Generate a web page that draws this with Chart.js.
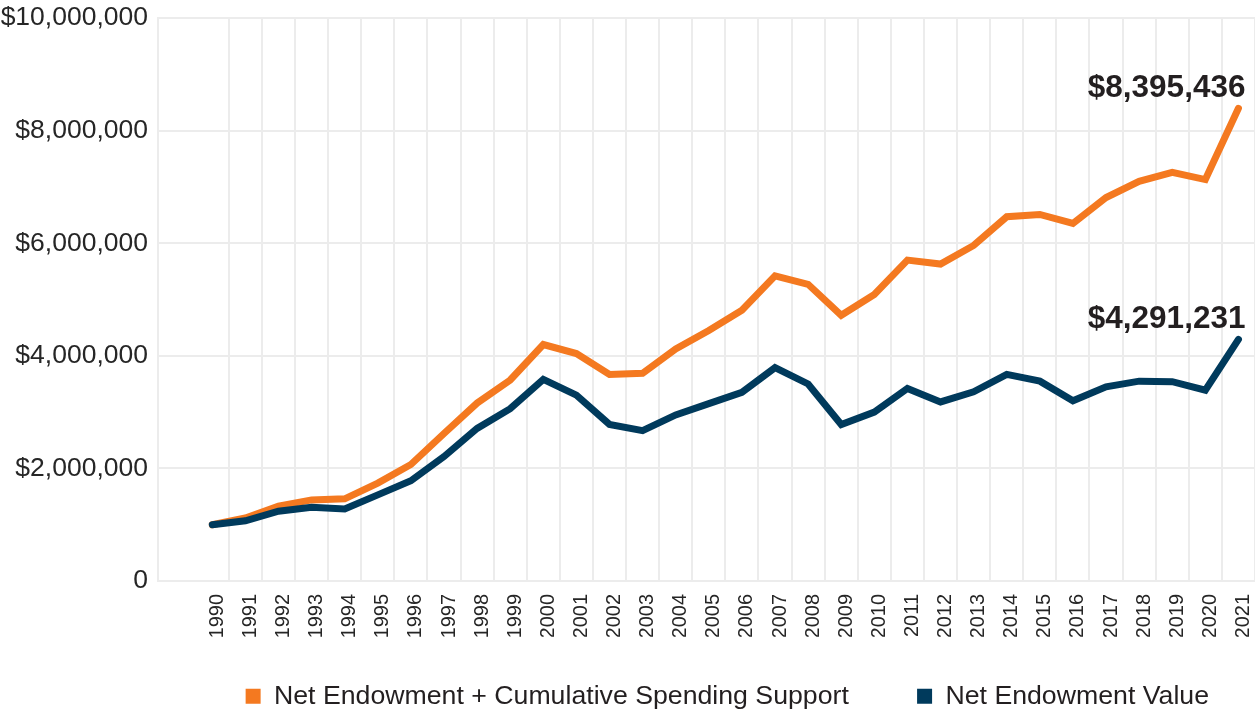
<!DOCTYPE html>
<html lang="en">

<head>
    <meta charset="UTF-8">
    <title>Net Endowment Growth</title>
    <script src="https://cdn.jsdelivr.net/npm/chart.js@4.4.1/dist/chart.umd.min.js"></script>
    <style>
        body { margin: 0; background: #fff; }
    </style>
</head>

<body>
    <canvas id="myChart" width="1255" height="713"></canvas>
</body>

<script>
    // data
    const years = [1990, 1991, 1992, 1993, 1994, 1995, 1996, 1997, 1998, 1999, 2000, 2001, 2002, 2003, 2004, 2005,
        2006, 2007, 2008, 2009, 2010, 2011, 2012, 2013, 2014, 2015, 2016, 2017, 2018, 2019, 2020, 2021];

    const endowmentPlusSpending = [1000000, 1120000, 1330000, 1440000, 1460000, 1740000, 2070000, 2620000, 3160000,
        3570000, 4200000, 4040000, 3670000, 3690000, 4120000, 4450000, 4810000, 5420000, 5270000, 4720000, 5090000,
        5700000, 5630000, 5960000, 6470000, 6510000, 6350000, 6810000, 7100000, 7260000, 7130000, 8395436];

    const endowmentValue = [1000000, 1070000, 1240000, 1310000, 1280000, 1530000, 1780000, 2210000, 2710000,
        3060000, 3580000, 3300000, 2780000, 2670000, 2950000, 3150000, 3350000, 3790000, 3500000, 2780000, 3000000,
        3420000, 3180000, 3360000, 3670000, 3550000, 3200000, 3450000, 3550000, 3540000, 3390000, 4291231];

    const seriesNames = ["Net Endowment + Cumulative Spending Support", "Net Endowment Value"];
    const seriesColors = ["#f47920", "#003a5c"];
    const yTicks = [0, 2000000, 4000000, 6000000, 8000000, 10000000];

    const gridColor = "#ececec";
    const textColor = "#262626";

    Chart.defaults.font.family = "'Liberation Sans', Arial, sans-serif";
    Chart.defaults.color = textColor;

    function money(v) {
        return v === 0 ? "0" : "$" + v.toLocaleString("en-US");
    }

    // writes the final value above the last point of each line
    const endLabels = {
        id: "endLabels",
        afterDatasetsDraw(chart) {
            const ctx = chart.ctx;
            ctx.save();
            ctx.font = "bold 31.5px 'Liberation Sans', Arial, sans-serif";
            ctx.fillStyle = "#231f20";
            ctx.textAlign = "right";
            ctx.textBaseline = "alphabetic";
            chart.data.datasets.forEach((ds, i) => {
                const pts = chart.getDatasetMeta(i).data;
                const last = pts[pts.length - 1];
                const value = ds.data[ds.data.length - 1].y;
                ctx.fillText(money(value), last.x + 7, last.y - 11);
            });
            ctx.restore();
        }
    };

    const ctx = document.getElementById("myChart").getContext("2d");
    const myChart = new Chart(ctx, {
        type: "line",
        data: {
            datasets: [{
                label: seriesNames[0],
                data: years.map((y, i) => ({ x: y, y: endowmentPlusSpending[i] })),
                borderColor: seriesColors[0],
                backgroundColor: seriesColors[0],
                order: 1
            }, {
                label: seriesNames[1],
                data: years.map((y, i) => ({ x: y, y: endowmentValue[i] })),
                borderColor: seriesColors[1],
                backgroundColor: seriesColors[1],
                order: 0
            }]
        },
        options: {
            responsive: false,
            animation: false,
            devicePixelRatio: 1,
            layout: { padding: { top: 18, left: 0, right: 0, bottom: 0 } },
            elements: {
                line: { borderWidth: 7, tension: 0, borderCapStyle: "round", fill: false },
                point: { radius: 0, hoverRadius: 0 }
            },
            scales: {
                x: {
                    type: "linear",
                    min: 1988.36,
                    max: 2021.5,
                    afterBuildTicks: (scale) => {
                        scale.ticks = years.map(y => ({ value: y }));
                    },
                    afterFit: (scale) => {
                        scale.height = 55.8;
                    },
                    ticks: {
                        autoSkip: false,
                        minRotation: 90,
                        maxRotation: 90,
                        padding: 0,
                        labelOffset: 5,
                        color: textColor,
                        font: { size: 20, lineHeight: 0.8 },
                        callback: (v) => String(v)
                    },
                    grid: {
                        offset: true,
                        lineWidth: 2,
                        // no line left of 1990 in the original
                        color: (c) => c.index === 0 ? "rgba(0,0,0,0)" : gridColor,
                        drawTicks: true,
                        tickLength: 13,
                        tickColor: "rgba(0,0,0,0)"
                    },
                    border: { color: gridColor, width: 2 }
                },
                y: {
                    min: 0,
                    max: 10000000,
                    afterBuildTicks: (scale) => {
                        scale.ticks = yTicks.map(v => ({ value: v }));
                    },
                    afterFit: (scale) => {
                        scale.width = 158;
                    },
                    ticks: {
                        padding: 10,
                        color: textColor,
                        font: { size: 26.5, lineHeight: 0.6 },
                        callback: (v) => money(v)
                    },
                    grid: { color: gridColor, lineWidth: 2, drawTicks: false },
                    border: { color: gridColor, width: 2 }
                }
            },
            plugins: {
                tooltip: { enabled: false },
                legend: {
                    position: "bottom",
                    align: "end",
                    maxHeight: 76.2,
                    labels: {
                        boxWidth: 15,
                        boxHeight: 15,
                        padding: 46,
                        color: "#231f20",
                        font: { size: 26.7 },
                        generateLabels: (chart) => {
                            const items = Chart.defaults.plugins.legend.labels.generateLabels(chart);
                            items.sort((a, b) => a.datasetIndex - b.datasetIndex);
                            return items.map((it, i) => {
                                it.lineWidth = 0;
                                // extra room between the two entries
                                if (i === 0) it.text = it.text + "   ";
                                return it;
                            });
                        }
                    }
                }
            }
        },
        plugins: [endLabels]
    });
</script>

</html>
